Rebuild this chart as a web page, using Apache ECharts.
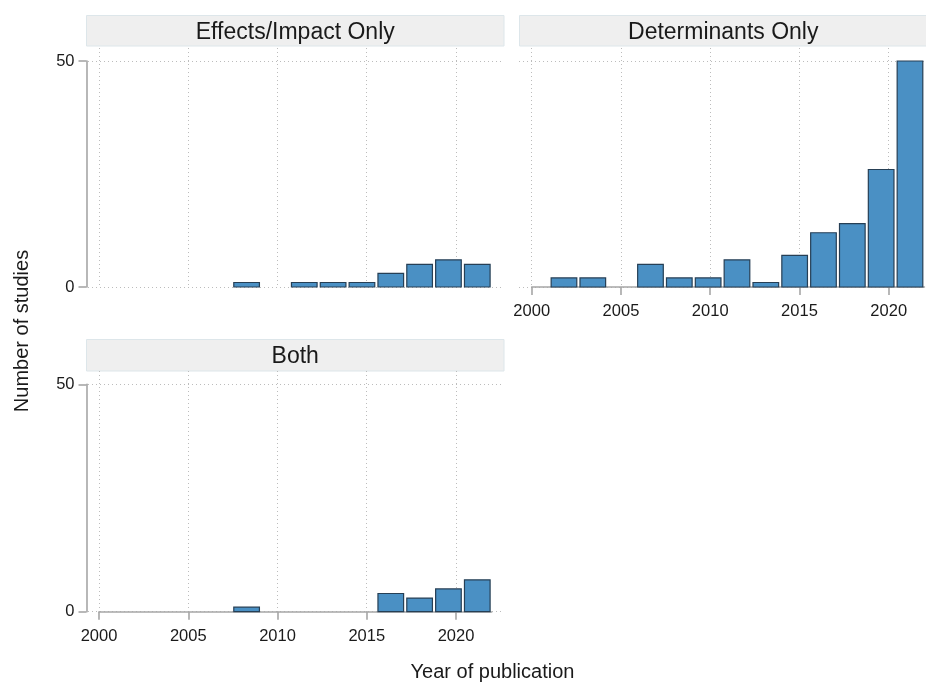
<!DOCTYPE html>
<html>
<head>
<meta charset="utf-8">
<title>Number of studies by year of publication</title>
<script src="https://cdn.jsdelivr.net/npm/echarts@6/dist/echarts.min.js"></script>
<style>
  html, body { margin: 0; padding: 0; background: #ffffff; }
  #chart { width: 926px; height: 683px; }
</style>
</head>
<body>
<div id="chart"></div>
<script>
// Panel titles, in drawing order
const panelTitles = ['Effects/Impact Only', 'Determinants Only', 'Both'];

// Histogram binning: 13 equal-width bins spanning 2001 to 2022
const binStart = 2001;
const binEnd = 2022;
const binCount = 13;

// Studies per bin
const effectsCounts      = [0, 0, 0, 0, 1, 0, 1, 1, 1, 3, 5, 6, 5];
const determinantsCounts = [2, 2, 0, 5, 2, 2, 6, 1, 7, 12, 14, 26, 50];
const bothCounts         = [0, 0, 0, 0, 1, 0, 0, 0, 0, 4, 3, 5, 7];

// Axis ticks
const yearTicks = [2000, 2005, 2010, 2015, 2020];
const countTicks = [0, 50];
const yearMin = 2000, yearMax = 2022;
const countMin = 0, countMax = 50;

const xTitle = 'Year of publication';
const yTitle = 'Number of studies';

const panelCounts = [effectsCounts, determinantsCounts, bothCounts];

// Pixel layout of each panel: scale box (x0..x1 = yearMin..yearMax,
// yTop..yBot = countMax..countMin), the wider plot region and the title strip.
const layout = [
  { x0: 99, x1: 491.7, yTop: 61, yBot: 287,
    region: { l: 88, r: 503, t: 48 },
    strip: { l: 86.5, r: 504, t: 15.5, b: 46 },
    showX: false, showY: true },
  { x0: 531.7, x1: 924.4, yTop: 61, yBot: 287,
    region: { l: 519, r: 926, t: 48 },
    strip: { l: 519.5, r: 927, t: 15.5, b: 46 },
    showX: true, showY: false },
  { x0: 99, x1: 491.7, yTop: 384.3, yBot: 611.7,
    region: { l: 88, r: 503, t: 371 },
    strip: { l: 86.5, r: 504, t: 339.5, b: 371 },
    showX: true, showY: true }
];

const FONT = "'Liberation Sans', Arial, sans-serif";
const TEXT = '#1a1a1a';
const AXIS = '#a6a6a6';
const GRID = '#bcbcbc';
const BAR_FILL = '#4a90c4';
const BAR_EDGE = '#263f55';

const plainNumber = v => String(v);

const binWidth = (binEnd - binStart) / binCount;
const binEdges = [];
for (let k = 0; k <= binCount; k++) binEdges.push(binStart + k * binWidth);

const grids = [], xAxes = [], yAxes = [], series = [], graphics = [];

layout.forEach((p, i) => {
  const pxPerYear = (p.x1 - p.x0) / (yearMax - yearMin);
  const pxPerCount = (p.yBot - p.yTop) / (countMax - countMin);

  // Plot region: carries the dotted grid lines only
  grids.push({ left: p.region.l, top: p.region.t,
               width: p.region.r - p.region.l, height: p.yBot - p.region.t,
               containLabel: false });
  xAxes.push({
    type: 'value', gridIndex: 2 * i,
    min: yearMin - (p.x0 - p.region.l) / pxPerYear,
    max: yearMax + (p.region.r - p.x1) / pxPerYear,
    axisLine: { show: false },
    axisTick: { show: false, customValues: yearTicks },
    axisLabel: { show: false, customValues: yearTicks },
    splitLine: { show: true, lineStyle: { color: GRID, width: 1, type: [1, 3] } }
  });
  yAxes.push({
    type: 'value', gridIndex: 2 * i,
    min: countMin,
    max: countMax + (p.yTop - p.region.t) / pxPerCount,
    axisLine: { show: false },
    axisTick: { show: false, customValues: countTicks },
    axisLabel: { show: false, customValues: countTicks },
    splitLine: { show: true, lineStyle: { color: GRID, width: 1, type: [1, 3] } }
  });

  // Scale box: bars, axis lines, ticks and labels
  grids.push({ left: p.x0, top: p.yTop, width: p.x1 - p.x0, height: p.yBot - p.yTop,
               containLabel: false });
  xAxes.push({
    type: 'value', gridIndex: 2 * i + 1,
    min: yearMin, max: yearMax,
    show: p.showX,
    axisLine: { show: true, onZero: false, lineStyle: { color: AXIS, width: 1.6 } },
    axisTick: { show: true, length: 8, customValues: yearTicks,
                lineStyle: { color: AXIS, width: 1.6 } },
    axisLabel: { show: true, customValues: yearTicks, margin: 16, formatter: plainNumber,
                 color: TEXT, fontSize: 16.5, fontFamily: FONT },
    splitLine: { show: false }
  });
  yAxes.push({
    type: 'value', gridIndex: 2 * i + 1,
    min: countMin, max: countMax,
    show: p.showY,
    offset: p.x0 - 86.5,
    axisLine: { show: true, onZero: false, lineStyle: { color: AXIS, width: 1.6 } },
    axisTick: { show: true, length: 8, customValues: countTicks,
                lineStyle: { color: AXIS, width: 1.6 } },
    axisLabel: { show: true, customValues: countTicks, margin: 12, formatter: plainNumber,
                 color: TEXT, fontSize: 16.5, fontFamily: FONT },
    splitLine: { show: false }
  });

  // Histogram bars, one rectangle per bin
  series.push({
    type: 'custom',
    xAxisIndex: 2 * i + 1, yAxisIndex: 2 * i + 1,
    data: panelCounts[i].map((n, k) => [binEdges[k], binEdges[k + 1], n]),
    encode: { x: [0, 1], y: 2 },
    clip: false,
    renderItem(params, api) {
      const n = api.value(2);
      if (!n) return null;
      const base = api.coord([api.value(0), 0]);
      const top = api.coord([api.value(1), n]);
      const inset = 1.6;
      return {
        type: 'rect',
        shape: { x: base[0] + inset, y: top[1],
                 width: top[0] - base[0] - 2 * inset, height: base[1] - top[1] },
        style: { fill: BAR_FILL, stroke: BAR_EDGE, lineWidth: 1.2 }
      };
    }
  });

  // Title strip above the panel
  graphics.push({
    type: 'rect', silent: true,
    shape: { x: p.strip.l, y: p.strip.t, width: p.strip.r - p.strip.l, height: p.strip.b - p.strip.t },
    style: { fill: '#efefef', stroke: '#dde6ea', lineWidth: 1 }
  });
  graphics.push({
    type: 'text', silent: true,
    x: (p.strip.l + p.strip.r) / 2, y: (p.strip.t + p.strip.b) / 2 + 1.5,
    style: { text: panelTitles[i], fill: TEXT, font: '23px ' + FONT,
             textAlign: 'center', textVerticalAlign: 'middle' }
  });
});

// Shared axis titles
graphics.push({
  type: 'text', silent: true,
  x: 492.5, y: 672,
  style: { text: xTitle, fill: TEXT, font: '20px ' + FONT,
           textAlign: 'center', textVerticalAlign: 'middle' }
});
graphics.push({
  type: 'text', silent: true,
  x: 22.5, y: 331, rotation: Math.PI / 2,
  style: { text: yTitle, fill: TEXT, font: '20px ' + FONT,
           textAlign: 'center', textVerticalAlign: 'middle' }
});

const chart = echarts.init(document.getElementById('chart'), null, { renderer: 'canvas' });
chart.setOption({
  animation: false,
  backgroundColor: '#ffffff',
  grid: grids,
  xAxis: xAxes,
  yAxis: yAxes,
  series: series,
  graphic: graphics
});
</script>
</body>
</html>
